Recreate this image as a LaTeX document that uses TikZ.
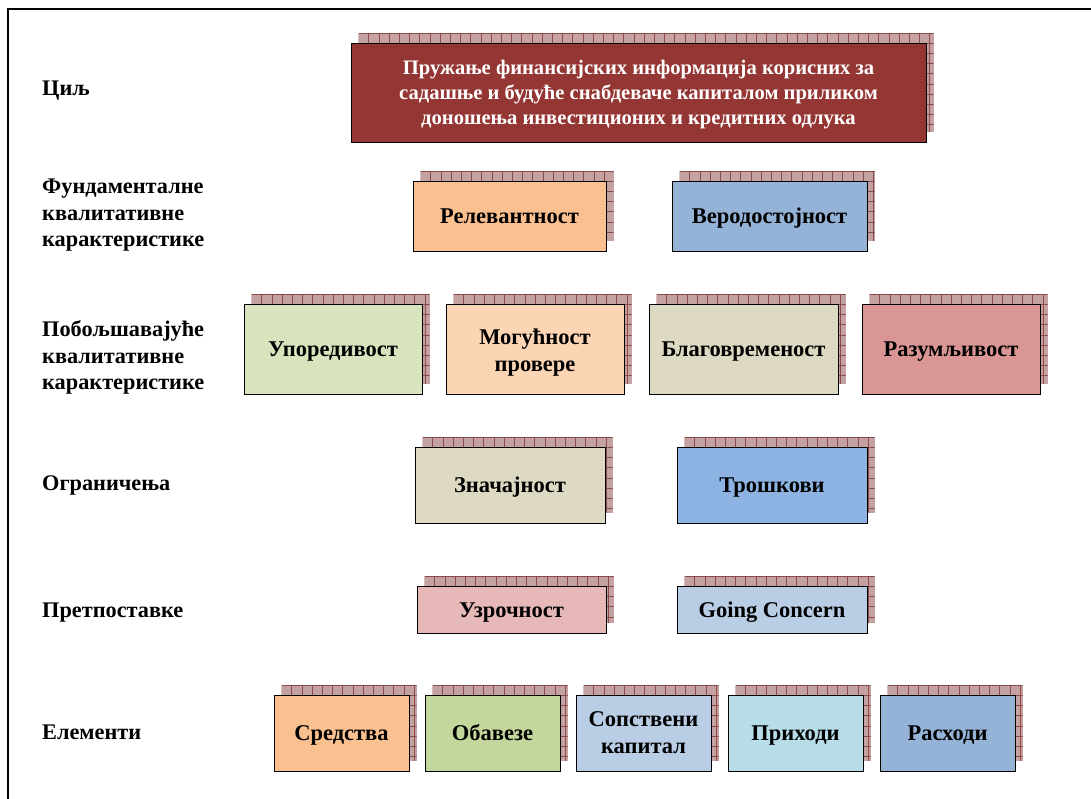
\documentclass[tikz,border=0pt]{standalone}
\usepackage{fontspec}
\setmainfont{Liberation Serif}
\definecolor{cTitle}{HTML}{943634}
\definecolor{cOrange}{HTML}{FAC090}
\definecolor{cBlue}{HTML}{95B3D7}
\definecolor{cGreenL}{HTML}{D7E4BD}
\definecolor{cPeach}{HTML}{FCD5B5}
\definecolor{cBeige}{HTML}{DDD9C3}
\definecolor{cRose}{HTML}{D99694}
\definecolor{cBlueM}{HTML}{8DB3E2}
\definecolor{cPink}{HTML}{E6B9B8}
\definecolor{cBlueL}{HTML}{B9CDE5}
\definecolor{cGreen}{HTML}{C3D69B}
\definecolor{cAqua}{HTML}{B7DDE8}
\definecolor{shFill}{HTML}{C4A2A2}
\definecolor{shLine}{HTML}{8A4B4B}
\tikzset{
  box/.style={draw=black, line width=0.9pt, inner sep=2pt, align=center,
    font=\fontsize{22.5}{27}\selectfont\bfseries, text=black},
  oneline/.style={text height=17pt, text depth=2pt},
  titletext/.style={text=white, font=\fontsize{20.6}{25}\selectfont\bfseries},
  rowlabel/.style={anchor=west, align=left, inner sep=0pt,
    font=\fontsize{22.3}{26.5}\selectfont\bfseries},
  gridline/.style={draw=shLine, line width=0.6pt},
}
% extra height on a first line, to set a multi-line text a little lower
\newcommand\toppad[1]{\rule{0pt}{#1pt}}
% [#1 extra node options] #2 name, #3 cx, #4 cy, #5 width, #6 height, #7 fill, #8 text
\newcommand\pbox[8][]{%
  \begin{scope}[shift={({#3-(#5)/2+7.5},{#4-(#6)/2-10})}]
    \fill[shFill] (0,0) rectangle (#5,#6);
    \begin{scope}
      \clip (0,0) rectangle (#5,#6);
      \foreach \gx in {0,10.2,...,#5} \draw[gridline] (\gx,0) -- (\gx,#6);
      \foreach \gy in {0,10.2,...,#6} \draw[gridline] (0,\gy) -- (#5,\gy);
    \end{scope}
  \end{scope}
  \node[box, fill=#7, minimum width=#5pt, minimum height=#6pt, #1] (#2) at (#3,#4) {#8};
}
\begin{document}
\begin{tikzpicture}[x=1pt, y=-1pt]
\useasboundingbox (0,0) rectangle (1091,799);
\fill[white] (0,0) rectangle (1091,799);
% frame
\draw[line width=2pt] (8,799) -- (8,9) -- (1091,9);

% row labels
\node[rowlabel] (lGoal) at (42,90.5) {Циљ};
\node[rowlabel] (lFund) at (42,215.5) {Фундаменталне\\квалитативне\\карактеристике};
\node[rowlabel] (lEnh) at (42,357.5) {Побољшавајуће\\квалитативне\\карактеристике};
\node[rowlabel] (lCon) at (42,485.5) {Ограничења};
\node[rowlabel] (lAss) at (42,612.5) {Претпоставке};
\node[rowlabel] (lEl) at (42,732.5) {Елементи};

% goal
\pbox[titletext]{goal}{638.5}{92.5}{575}{99}{cTitle}{\toppad{18}Пружање финансијских информација корисних за\\
  садашње и будуће снабдеваче капиталом приликом\\
  доношења инвестиционих и кредитних одлука}

% fundamental
\pbox[oneline]{rel}{509.5}{216}{193}{70}{cOrange}{Релевантност}
\pbox[oneline]{faith}{769.5}{216}{195}{70}{cBlue}{Веродостојност}

% enhancing
\pbox[oneline]{comp}{333}{349}{178}{90}{cGreenL}{Упоредивост}
\pbox{verif}{535}{349}{178}{90}{cPeach}{\toppad{23}Могућност\\провере}
\pbox[oneline]{time}{743.5}{349}{189}{90}{cBeige}{Благовременост}
\pbox[oneline]{under}{951}{349}{178}{90}{cRose}{Разумљивост}

% constraints
\pbox[oneline]{mat}{510}{485}{190}{76}{cBeige}{Значајност}
\pbox[oneline]{cost}{772}{485}{190}{76}{cBlueM}{Трошкови}

% assumptions
\pbox[oneline]{accr}{511.5}{609.5}{189}{47}{cPink}{Узрочност}
\pbox[oneline]{going}{772}{609.5}{190}{47}{cBlueL}{Going Concern}

% elements
\pbox[oneline]{assets}{341.5}{733}{135}{76}{cOrange}{Средства}
\pbox[oneline]{liab}{492.5}{733}{135}{76}{cGreen}{Обавезе}
\pbox{equity}{643.5}{733}{135}{76}{cBlueL}{Сопствени\\капитал}
\pbox[oneline]{income}{795.5}{733}{135}{76}{cAqua}{Приходи}
\pbox[oneline]{exp}{947.5}{733}{135}{76}{cBlue}{Расходи}
\end{tikzpicture}
\end{document}
